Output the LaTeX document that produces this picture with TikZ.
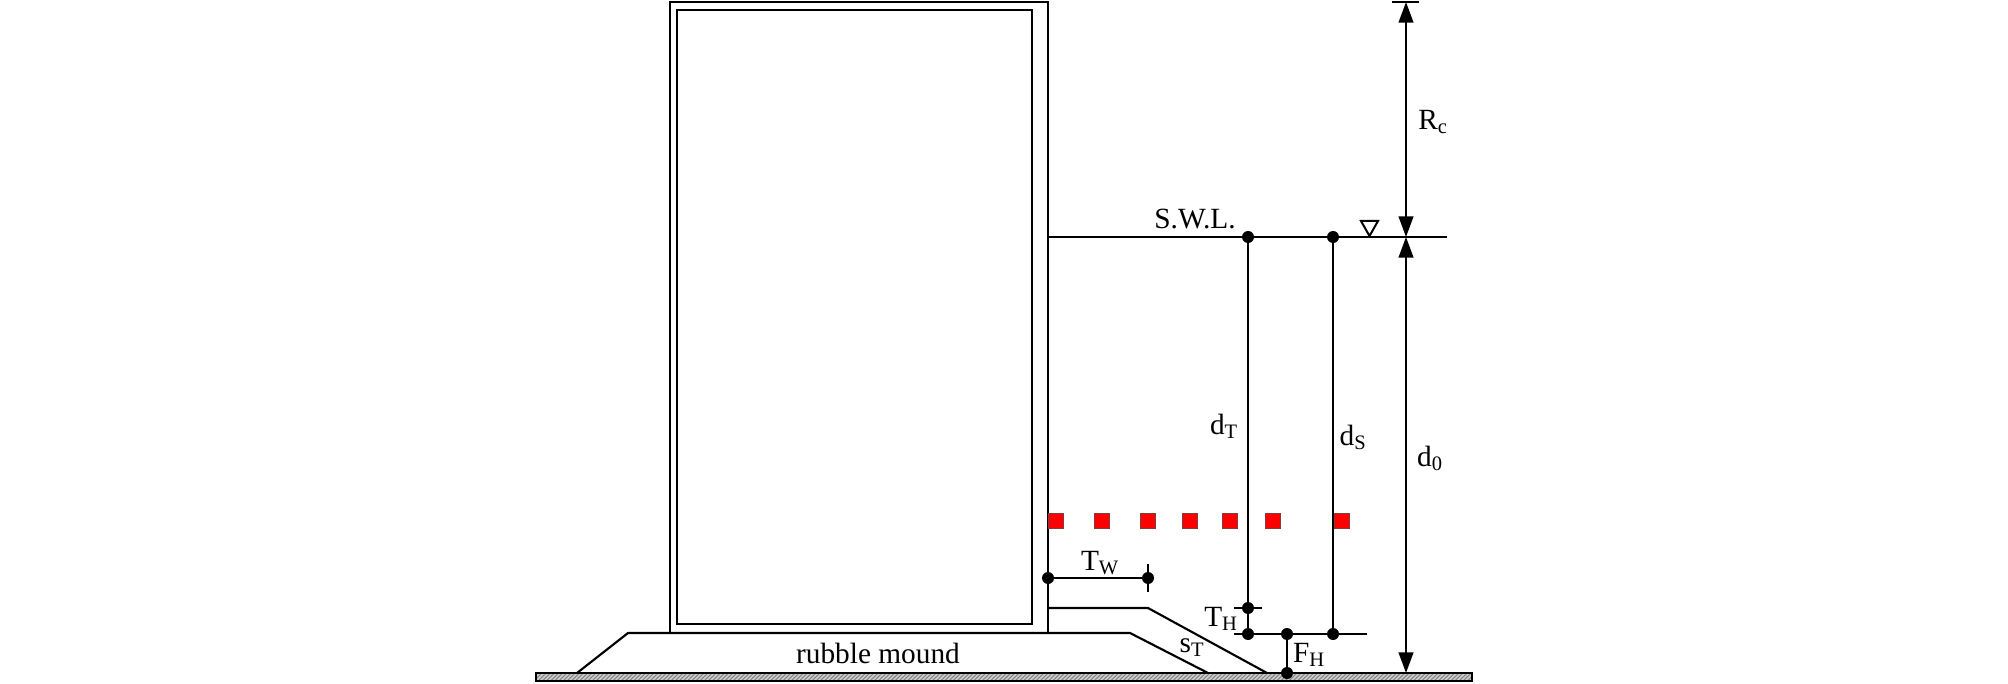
\documentclass[tikz,border=0pt]{standalone}
\usepackage{fontspec}
\setmainfont{Liberation Serif}
\usetikzlibrary{arrows.meta,patterns.meta}
\tikzset{
  wall/.style={line width=1.6pt},
  thin line/.style={line width=1.5pt},
  dot/.style={circle,fill=black,inner sep=0pt,minimum size=9pt},
  red block/.style={draw={rgb, 255:red, 130; green, 60; blue, 60 },line width=0.5pt,fill={rgb, 255:red, 255; green, 0; blue, 0 },inner sep=0pt,minimum size=11pt},
  dim line/.style={line width=1.6pt,{Triangle[length=15.5pt,width=11pt]}-{Triangle[length=15.5pt,width=11pt]}},
  label text/.style={inner sep=0.75pt,font=\fontsize{22}{26}\selectfont}
}

\begin{document}
\begin{tikzpicture}[x=0.75pt,y=0.75pt,yscale=-1,xscale=1]
  \useasboundingbox (0,0) rectangle (2008,684);

  %Shape: Seabed
  \fill [fill={rgb, 255:red, 205; green, 205; blue, 205 }] (536,673) rectangle (1472,681);
  \draw [wall,pattern={Lines[angle=45,distance=2.2pt,line width=0.8pt]},pattern color={rgb, 255:red, 130; green, 130; blue, 130 }] (536,673) rectangle (1472,681);
  %Shape: Caisson
  \draw [wall] (670,633) -- (670,2) -- (1048,2) -- (1048,633);
  \draw [wall] (677,10) rectangle (1032,624);
  %Straight Lines: rubble mound
  \draw [wall] (577,673) -- (628,633) -- (1130,633) -- (1208,673);
  %Straight Lines: toe
  \draw [wall] (1048,608) -- (1148,608) -- (1267,673);

  %Red blocks
  \foreach \xpos/\blockname in {1056/a,1102/b,1148/c,1190/d,1230/e,1273/f,1342/g}
    \node [red block] (block\blockname) at (\xpos,521) {};

  %Points
  \node [dot] (swlT) at (1248,237) {};
  \node [dot] (swlS) at (1333,237) {};
  \node [dot] (toeT) at (1248,608) {};
  \node [dot] (bermT) at (1248,634) {};
  \node [dot] (bermF) at (1287,634) {};
  \node [dot] (bermS) at (1333,634) {};
  \node [dot] (bedF) at (1287,673) {};
  \node [dot] (wallW) at (1048,578) {};
  \node [dot] (endW) at (1148,578) {};
  \coordinate (swlL) at (1048,237);
  \coordinate (swlR) at (1447,237);
  \coordinate (crest) at (1406,2);
  \coordinate (swlD) at (1406,237);
  \coordinate (bedD) at (1406,673);

  %Straight Lines: still water level
  \draw [thin line] (swlL) -- (swlR);
  \draw [wall] (swlT) -- (bermT);
  \draw [wall] (swlS) -- (bermS);
  \draw [wall] (bermF) -- (bedF);
  \draw [thin line] (1234,634) -- (1367,634);
  \draw [thin line] (1234,608) -- (1262,608);
  \draw [thin line] (wallW) -- (endW);
  \draw [thin line] (1148,564) -- (1148,592);
  %Water mark
  \draw [thin line] (1361,221) -- (1378,221) -- (1369.5,236) -- cycle;
  %Dimension arrows
  \draw [thin line] (1392,2) -- (1419,2);
  \draw [dim line] (crest) -- (swlD);
  \draw [dim line] (swlD) -- (bedD);

  % Text Node
  \node [label text] (swl) at (1195,219) {S.W.L.};
  % Text Node
  \node [label text] (rc) at (1433,122) {R\textsubscript{c}};
  % Text Node
  \node [label text] (dt) at (1224,426) {d\textsubscript{T}};
  % Text Node
  \node [label text] (ds) at (1353,437) {d\textsubscript{S}};
  % Text Node
  \node [label text] (dzero) at (1430,458) {d\textsubscript{0}};
  % Text Node
  \node [label text] (tw) at (1100,563) {T\textsubscript{W}};
  % Text Node
  \node [label text] (th) at (1221,619) {T\textsubscript{H}};
  % Text Node
  \node [label text] (st) at (1192,648) {s\textsubscript{T}};
  % Text Node
  \node [label text] (fh) at (1309,655) {F\textsubscript{H}};
  % Text Node
  \node [label text] (rubble) at (878,653) {rubble mound};
\end{tikzpicture}
\end{document}
